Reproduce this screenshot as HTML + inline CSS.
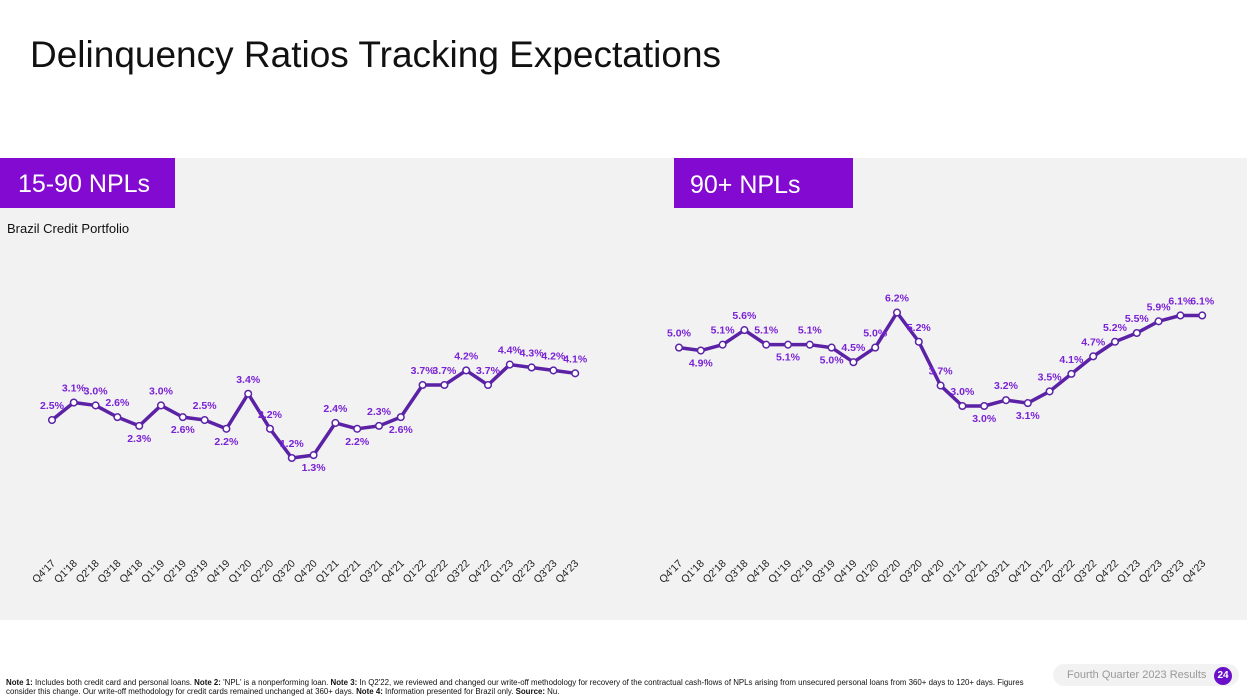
<!DOCTYPE html>
<html><head><meta charset="utf-8"><style>
body{margin:0;width:1247px;height:699px;background:#fff;font-family:"Liberation Sans",sans-serif;overflow:hidden;position:relative}
.t{position:absolute}
</style></head><body>
<div class="t" style="left:30px;top:34px;font-size:37px;color:#111">Delinquency Ratios Tracking Expectations</div>
<svg width="1247" height="699" style="position:absolute;left:0;top:0;z-index:-1" id="chart">
<rect x="0" y="158" width="1247" height="462" fill="#f2f2f2"/>
<rect x="0" y="158" width="175" height="50" fill="#820ad1"/>
<rect x="674" y="158" width="179" height="50" fill="#820ad1"/>
<text x="18" y="192" font-size="25" fill="#fff">15-90 NPLs</text>
<text x="690" y="193" font-size="25" fill="#fff">90+ NPLs</text>
<text x="7" y="233" font-size="13" fill="#111">Brazil Credit Portfolio</text>
<g id="g"></g>
</svg>
<div class="t" style="left:6px;top:679px;width:1040px;font-size:7.9px;line-height:8.5px;color:#111"><b>Note 1:</b> Includes both credit card and personal loans. <b>Note 2:</b> 'NPL' is a nonperforming loan. <b>Note 3:</b> In Q2'22, we reviewed and changed our write-off methodology for recovery of the contractual cash-flows of NPLs arising from unsecured personal loans from 360+ days to 120+ days. Figures consider this change. Our write-off methodology for credit cards remained unchanged at 360+ days. <b>Note 4:</b> Information presented for Brazil only. <b>Source:</b> Nu.</div>
<div class="t" style="left:1053px;top:664px;width:186px;height:22px;border-radius:11px;background:#f2f2f2"></div>
<div class="t" style="left:1067px;top:669px;font-size:11px;color:#999">Fourth Quarter 2023 Results</div>
<div class="t" style="left:1214px;top:667px;width:18px;height:18px;border-radius:9px;background:#6a11c8;color:#fff;font-size:10px;font-weight:bold;text-align:center;line-height:18px">24</div>
<script>
const categories=["Q4'17","Q1'18","Q2'18","Q3'18","Q4'18","Q1'19","Q2'19","Q3'19","Q4'19","Q1'20","Q2'20","Q3'20","Q4'20","Q1'21","Q2'21","Q3'21","Q4'21","Q1'22","Q2'22","Q3'22","Q4'22","Q1'23","Q2'23","Q3'23","Q4'23"];
const npl1590=[2.5,3.1,3.0,2.6,2.3,3.0,2.6,2.5,2.2,3.4,2.2,1.2,1.3,2.4,2.2,2.3,2.6,3.7,3.7,4.2,3.7,4.4,4.3,4.2,4.1];
const npl90=[5.0,4.9,5.1,5.6,5.1,5.1,5.1,5.0,4.5,5.0,6.2,5.2,3.7,3.0,3.0,3.2,3.1,3.5,4.1,4.7,5.2,5.5,5.9,6.1,6.1];
const pos1590="aaaabababaaabababaaaaaaaa";
const pos90="abaaababaaaaaababaaaaaaaa";
const NS="http://www.w3.org/2000/svg",g=document.getElementById('g');
function mk(t,a){const e=document.createElementNS(NS,t);for(const k in a)e.setAttribute(k,a[k]);g.appendChild(e);return e;}
function draw(vals,pos,x0,yRef,vRef,name){
  const step=21.8,ppu=29.2;
  const X=i=>x0+i*step, Y=v=>yRef-(v-vRef)*ppu;
  const l=mk('polyline',{points:vals.map((v,i)=>X(i)+','+Y(v)).join(' '),fill:'none',stroke:'#5b22a6','stroke-width':3.5,'stroke-linejoin':'round'});
  
  
  vals.forEach((v,i)=>{
    const c=mk('circle',{cx:X(i),cy:Y(v),r:3.3,fill:'#fff',stroke:'#5b22a6','stroke-width':1.5});
    
    
    const up=pos[i]==='a';
    const t=mk('text',{x:X(i),y:up?Y(v)-11:Y(v)+16,'text-anchor':'middle','font-size':10.5,'font-weight':'bold',fill:'#7a22d6'});
    t.textContent=v.toFixed(1)+'%';
    
    
    const xl=mk('text',{x:X(i)+4,y:564,'text-anchor':'end','font-size':10.5,fill:'#222',transform:`rotate(-45 ${X(i)+4} 564)`});
    xl.textContent=categories[i];
    
    
  });
}
draw(npl1590,pos1590,52,458,1.2,'npl-15-90');
draw(npl90,pos90,679,406,3.0,'npl-90plus');
</script>
</body></html>
